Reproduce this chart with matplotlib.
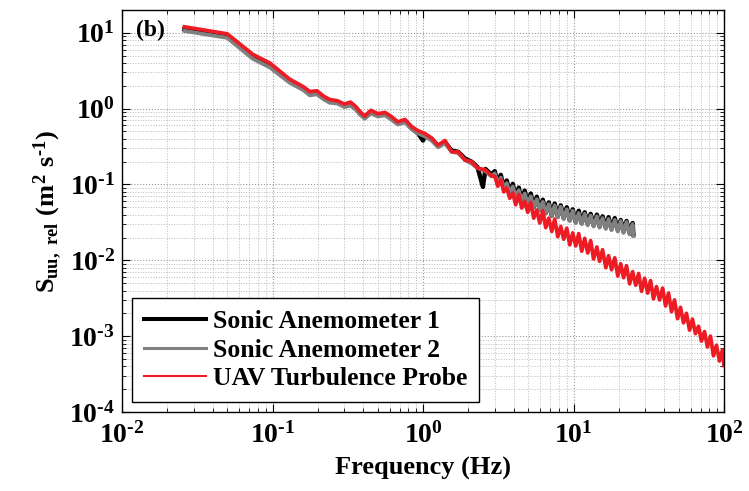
import math
import matplotlib
matplotlib.use("Agg")
import matplotlib.pyplot as plt
from matplotlib.ticker import LogLocator, FuncFormatter, NullFormatter

plt.rcParams['font.family'] = 'Liberation Serif'
plt.rcParams['font.weight'] = 'bold'
plt.rcParams['mathtext.fontset'] = 'custom'
plt.rcParams['mathtext.rm'] = 'Liberation Serif:bold'
plt.rcParams['mathtext.it'] = 'Liberation Serif:bold'
plt.rcParams['mathtext.bf'] = 'Liberation Serif:bold'

# UAV turbulence probe spectrum
f_uav = [0.026, 0.05, 0.074, 0.096, 0.13, 0.16, 0.177, 0.197, 0.22, 0.24,
         0.27, 0.30, 0.33, 0.36, 0.38, 0.41, 0.45, 0.50, 0.56, 0.62,
         0.68, 0.76, 0.84, 0.93, 1.03, 1.14, 1.26, 1.40, 1.55, 1.71,
         1.90, 2.1, 2.3, 2.6, 2.85,
         3.0, 3.14, 3.29, 3.44, 3.6, 3.77, 3.95, 4.13, 4.33, 4.53,
         4.74, 4.97, 5.2, 5.44, 5.7, 5.97, 6.25, 6.54, 6.85, 7.17,
         7.5, 7.86, 8.23, 8.61, 9.02, 9.44, 9.88, 10.35, 10.83, 11.34,
         11.87, 12.43, 13.0, 13.6, 14.3, 14.9, 15.6, 16.4, 17.1, 17.9,
         18.8, 19.7, 20.6, 21.5, 22.5, 23.6, 24.7, 25.9, 27.1, 28.3,
         29.7, 31.1, 32.5, 34.0, 35.6, 37.3, 39.1, 40.9, 42.8, 44.8,
         46.9, 49.1, 51.4, 53.8, 56.3, 59.0, 61.7, 64.6, 67.7, 70.8,
         74.2, 77.6, 81.3, 85.1, 89.1, 93.3, 97.7, 100.0]
s_uav = [12.0, 9.7, 5.2, 4.0, 2.45, 1.95, 1.68, 1.72, 1.45, 1.32,
         1.27, 1.15, 1.22, 1.05, 0.92, 0.80, 0.95, 0.86, 0.89, 0.78,
         0.67, 0.72, 0.58, 0.51, 0.47, 0.41, 0.33, 0.38, 0.27, 0.27,
         0.21, 0.20, 0.165, 0.155, 0.13,
         0.128, 0.095, 0.116, 0.080, 0.090, 0.066, 0.077, 0.054, 0.074, 0.049,
         0.060, 0.043, 0.058, 0.036, 0.046, 0.031, 0.045, 0.027, 0.036, 0.024,
         0.035, 0.0205, 0.028, 0.0190, 0.0265, 0.0160, 0.0230, 0.0155, 0.0225, 0.0132,
         0.0195, 0.0125, 0.0182, 0.0104, 0.0150, 0.0097, 0.0138, 0.0080, 0.0115, 0.0075,
         0.0108, 0.0062, 0.0090, 0.0059, 0.0085, 0.0049, 0.0071, 0.0047, 0.0067, 0.0039,
         0.0058, 0.0037, 0.0054, 0.0031, 0.0045, 0.0030, 0.0043, 0.0025, 0.0037, 0.0021,
         0.0030, 0.00170, 0.0024, 0.00150, 0.00200, 0.00120, 0.00168, 0.00108, 0.00135, 0.00086,
         0.00115, 0.00072, 0.00100, 0.00055, 0.00076, 0.00047, 0.00066, 0.00041]

# Sonic anemometer 1
f_son1 = [0.026, 0.05, 0.074, 0.096, 0.13, 0.16, 0.177, 0.197, 0.22, 0.24,
          0.27, 0.30, 0.33, 0.36, 0.38, 0.41, 0.45, 0.50, 0.56, 0.62,
          0.68, 0.76, 0.84, 0.93, 1.0, 1.03, 1.14, 1.26, 1.40, 1.55,
          1.71, 1.90, 2.1, 2.3, 2.5, 2.6, 2.85,
          3.0, 3.14, 3.29, 3.44, 3.6, 3.77, 3.95, 4.13, 4.33, 4.53,
          4.74, 4.97, 5.2, 5.44, 5.7, 5.97, 6.25, 6.54, 6.85, 7.17,
          7.5, 7.86, 8.23, 8.61, 9.02, 9.44, 9.88, 10.35, 10.83, 11.34,
          11.87, 12.43, 13.0, 13.6, 14.3, 14.9, 15.6, 16.4, 17.1, 17.9,
          18.8, 19.7, 20.6, 21.5, 22.5, 23.6, 24.7, 25.0]
s_son1 = [11.2, 9.1, 4.8, 3.7, 2.3, 1.85, 1.58, 1.62, 1.38, 1.25,
          1.22, 1.10, 1.15, 1.00, 0.88, 0.76, 0.90, 0.82, 0.85, 0.74,
          0.64, 0.68, 0.55, 0.47, 0.38, 0.44, 0.40, 0.32, 0.36, 0.28,
          0.27, 0.22, 0.20, 0.17, 0.093, 0.16, 0.135,
          0.150, 0.104, 0.134, 0.090, 0.113, 0.077, 0.102, 0.068, 0.091, 0.061,
          0.083, 0.055, 0.076, 0.050, 0.069, 0.046, 0.063, 0.042, 0.058, 0.039,
          0.056, 0.038, 0.053, 0.036, 0.050, 0.034, 0.047, 0.032, 0.045, 0.031,
          0.043, 0.030, 0.041, 0.029, 0.040, 0.028, 0.038, 0.027, 0.037, 0.026,
          0.036, 0.025, 0.034, 0.024, 0.033, 0.023, 0.031, 0.022]

# Sonic anemometer 2
f_son2 = [0.026, 0.05, 0.074, 0.096, 0.13, 0.16, 0.177, 0.197, 0.22, 0.24,
          0.27, 0.30, 0.33, 0.36, 0.38, 0.41, 0.45, 0.50, 0.56, 0.62,
          0.68, 0.76, 0.84, 0.93, 1.03, 1.14, 1.26, 1.40, 1.55, 1.71,
          1.90, 2.1, 2.3, 2.6, 2.85,
          3.0, 3.14, 3.29, 3.44, 3.6, 3.77, 3.95, 4.13, 4.33, 4.53,
          4.74, 4.97, 5.2, 5.44, 5.7, 5.97, 6.25, 6.54, 6.85, 7.17,
          7.5, 7.86, 8.23, 8.61, 9.02, 9.44, 9.88, 10.35, 10.83, 11.34,
          11.87, 12.43, 13.0, 13.6, 14.3, 14.9, 15.6, 16.4, 17.1, 17.9,
          18.8, 19.7, 20.6, 21.5, 22.5, 23.6, 24.7, 25.0]
s_son2 = [10.6, 8.6, 4.55, 3.5, 2.2, 1.76, 1.50, 1.55, 1.32, 1.20,
          1.17, 1.05, 1.10, 0.96, 0.84, 0.74, 0.87, 0.79, 0.82, 0.71,
          0.62, 0.66, 0.54, 0.47, 0.43, 0.38, 0.31, 0.35, 0.27, 0.26,
          0.21, 0.19, 0.165, 0.15, 0.128,
          0.140, 0.103, 0.123, 0.090, 0.104, 0.077, 0.094, 0.068, 0.084, 0.061,
          0.076, 0.056, 0.070, 0.050, 0.064, 0.046, 0.059, 0.042, 0.055, 0.039,
          0.053, 0.037, 0.051, 0.035, 0.047, 0.033, 0.045, 0.031, 0.042, 0.030,
          0.041, 0.029, 0.039, 0.028, 0.038, 0.027, 0.036, 0.026, 0.035, 0.025,
          0.034, 0.024, 0.033, 0.023, 0.032, 0.022, 0.030, 0.021]

fig = plt.figure(figsize=(7.49, 4.91), dpi=100)
ax = fig.add_axes([122 / 749, 79 / 491, 602 / 749, 402 / 491])

ax.loglog(f_son1, s_son1, color='black', linewidth=3.2, label='Sonic Anemometer 1')
ax.loglog(f_son2, s_son2, color='#808080', linewidth=2.8, label='Sonic Anemometer 2')
ax.loglog(f_uav, s_uav, color='#ED1C24', linewidth=2.7, label='UAV Turbulence Probe')

ax.set_xlim(1e-2, 1e2)
ax.set_ylim(1e-4, 20)

ax.xaxis.set_major_locator(LogLocator(base=10, numticks=10))
ax.yaxis.set_major_locator(LogLocator(base=10, numticks=10))
ax.xaxis.set_minor_locator(LogLocator(base=10, subs=range(2, 10), numticks=20))
ax.yaxis.set_minor_locator(LogLocator(base=10, subs=range(2, 10), numticks=20))
fmt = FuncFormatter(lambda v, p: r'$10^{\text{%d}}$' % round(math.log10(v)))
ax.xaxis.set_major_formatter(fmt)
ax.yaxis.set_major_formatter(fmt)
ax.xaxis.set_minor_formatter(NullFormatter())
ax.yaxis.set_minor_formatter(NullFormatter())

ax.tick_params(which='both', direction='in', top=True, right=True, labelsize=20)
ax.tick_params(which='major', length=6)
ax.tick_params(which='minor', length=3)
ax.tick_params(axis='x', pad=7)
ax.tick_params(axis='y', pad=5)

ax.grid(True, which='major', linestyle=':', color='#999999', linewidth=0.8)
ax.grid(True, which='minor', linestyle=':', color='#bbbbbb', linewidth=0.7)

ax.set_xlabel('Frequency (Hz)', fontsize=19, fontweight='bold', labelpad=6)
ax.set_ylabel(r'$S_{uu,\ rel}\ (m^2\ s^{\text{-1}})$', fontsize=19, labelpad=4)

ax.text(0.024, 0.975, '(b)', transform=ax.transAxes, fontsize=17,
        fontweight='bold', va='top', ha='left')

leg = ax.legend(loc='lower left', fontsize=18.5, frameon=True, fancybox=False,
                edgecolor='black', framealpha=1, handlelength=2.4,
                handletextpad=0.3, borderaxespad=0.4, labelspacing=0.22,
                borderpad=0.45)
leg.get_frame().set_linewidth(1.0)
for line, lw in zip(leg.get_lines(), [2.9, 2.2, 1.5]):
    line.set_linewidth(lw)

for s in ax.spines.values():
    s.set_linewidth(1.0)

plt.savefig('out.png', dpi=100)
